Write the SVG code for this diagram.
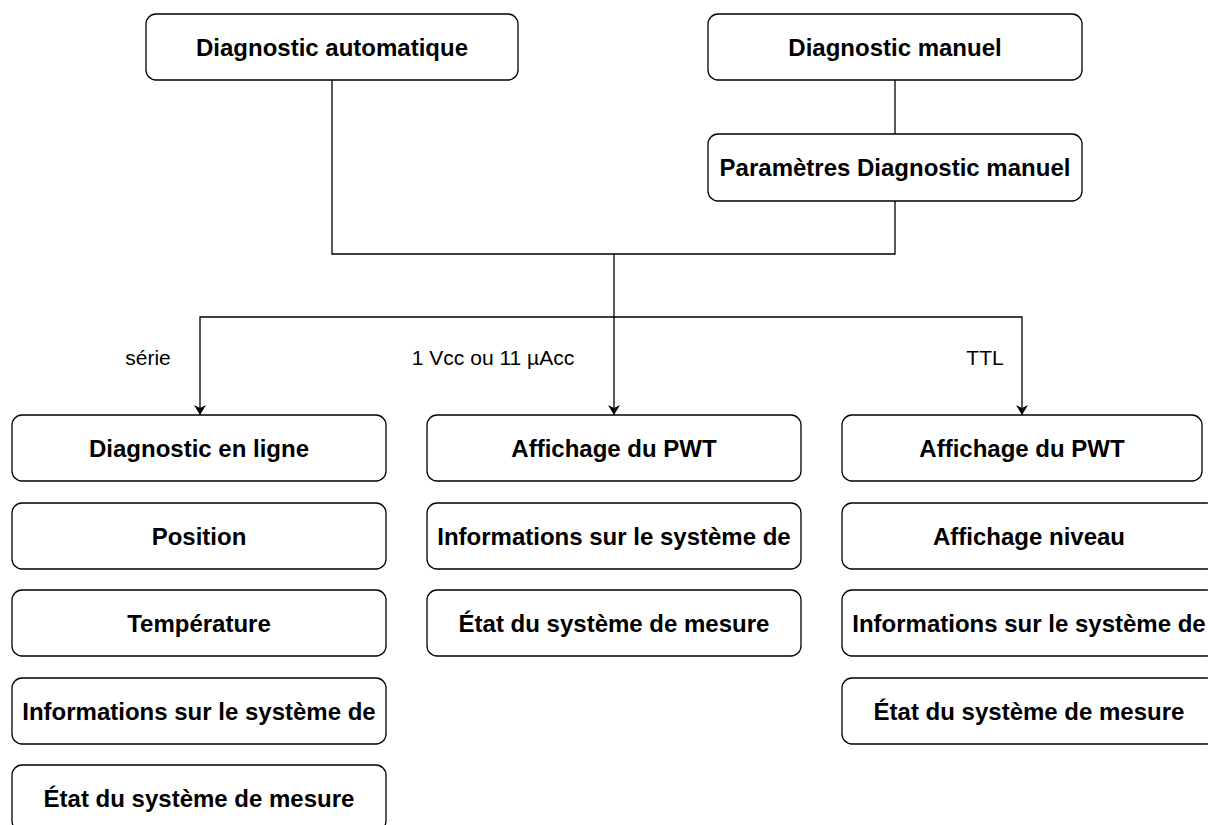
<svg xmlns="http://www.w3.org/2000/svg" width="1208" height="825" viewBox="0 0 1208 825">
<style>
.box{fill:#fff;stroke:#000;stroke-width:1.3}
.t{font-family:"Liberation Sans",Arial,sans-serif;font-weight:bold;font-size:24px;fill:#000;text-anchor:middle;dominant-baseline:central}
.lbl{font-family:"Liberation Sans",Arial,sans-serif;font-size:21px;fill:#000;text-anchor:middle;dominant-baseline:central}
.c{fill:none;stroke:#000;stroke-width:1.3}
</style>
<defs>
<marker id="arr" viewBox="0 0 10 12" refX="10" refY="6" markerWidth="10" markerHeight="12" markerUnits="userSpaceOnUse" orient="auto">
<path d="M0,0 L10,6 L0,12 L3,6 Z" fill="#000"/>
</marker>
</defs>
<rect width="1208" height="825" fill="#fff"/>
<g id="connectors">
<path class="c" d="M332,80 V254 H895 V201"/>
<path class="c" d="M895,80 V134"/>
<path class="c" d="M614,254 V415" marker-end="url(#arr)"/>
<path class="c" d="M614,317 H200 V415" marker-end="url(#arr)"/>
<path class="c" d="M614,317 H1022 V415" marker-end="url(#arr)"/>
</g>
<g id="labels">
<text class="lbl" x="148" y="357">série</text>
<text class="lbl" x="493" y="357">1 Vcc ou 11 µAcc</text>
<text class="lbl" x="985" y="357">TTL</text>
</g>
<g id="n-auto"><rect class="box" x="146" y="14" width="372" height="66" rx="10"/><text class="t" x="332" y="47">Diagnostic automatique</text></g>
<g id="n-manuel"><rect class="box" x="708" y="14" width="374" height="66" rx="10"/><text class="t" x="895" y="47">Diagnostic manuel</text></g>
<g id="n-params"><rect class="box" x="708" y="134" width="374" height="67" rx="10"/><text class="t" x="895" y="167.5">Paramètres Diagnostic manuel</text></g>

<g id="n-l1"><rect class="box" x="12" y="415" width="374" height="66" rx="10"/><text class="t" x="199" y="448">Diagnostic en ligne</text></g>
<g id="n-l2"><rect class="box" x="12" y="503" width="374" height="66" rx="10"/><text class="t" x="199" y="536">Position</text></g>
<g id="n-l3"><rect class="box" x="12" y="590" width="374" height="66" rx="10"/><text class="t" x="199" y="623">Température</text></g>
<g id="n-l4"><rect class="box" x="12" y="678" width="374" height="66" rx="10"/><text class="t" x="199" y="711">Informations sur le système de</text></g>
<g id="n-l5"><rect class="box" x="12" y="765" width="374" height="66" rx="10"/><text class="t" x="199" y="798">État du système de mesure</text></g>

<g id="n-m1"><rect class="box" x="427" y="415" width="374" height="66" rx="10"/><text class="t" x="614" y="448">Affichage du PWT</text></g>
<g id="n-m2"><rect class="box" x="427" y="503" width="374" height="66" rx="10"/><text class="t" x="614" y="536">Informations sur le système de</text></g>
<g id="n-m3"><rect class="box" x="427" y="590" width="374" height="66" rx="10"/><text class="t" x="614" y="623">État du système de mesure</text></g>

<g id="n-r1"><rect class="box" x="842" y="415" width="360" height="66" rx="10"/><text class="t" x="1022" y="448">Affichage du PWT</text></g>
<g id="n-r2"><rect class="box" x="842" y="503" width="374" height="66" rx="10"/><text class="t" x="1029" y="536">Affichage niveau</text></g>
<g id="n-r3"><rect class="box" x="842" y="590" width="374" height="66" rx="10"/><text class="t" x="1029" y="623">Informations sur le système de</text></g>
<g id="n-r4"><rect class="box" x="842" y="678" width="374" height="66" rx="10"/><text class="t" x="1029" y="711">État du système de mesure</text></g>
</svg>
